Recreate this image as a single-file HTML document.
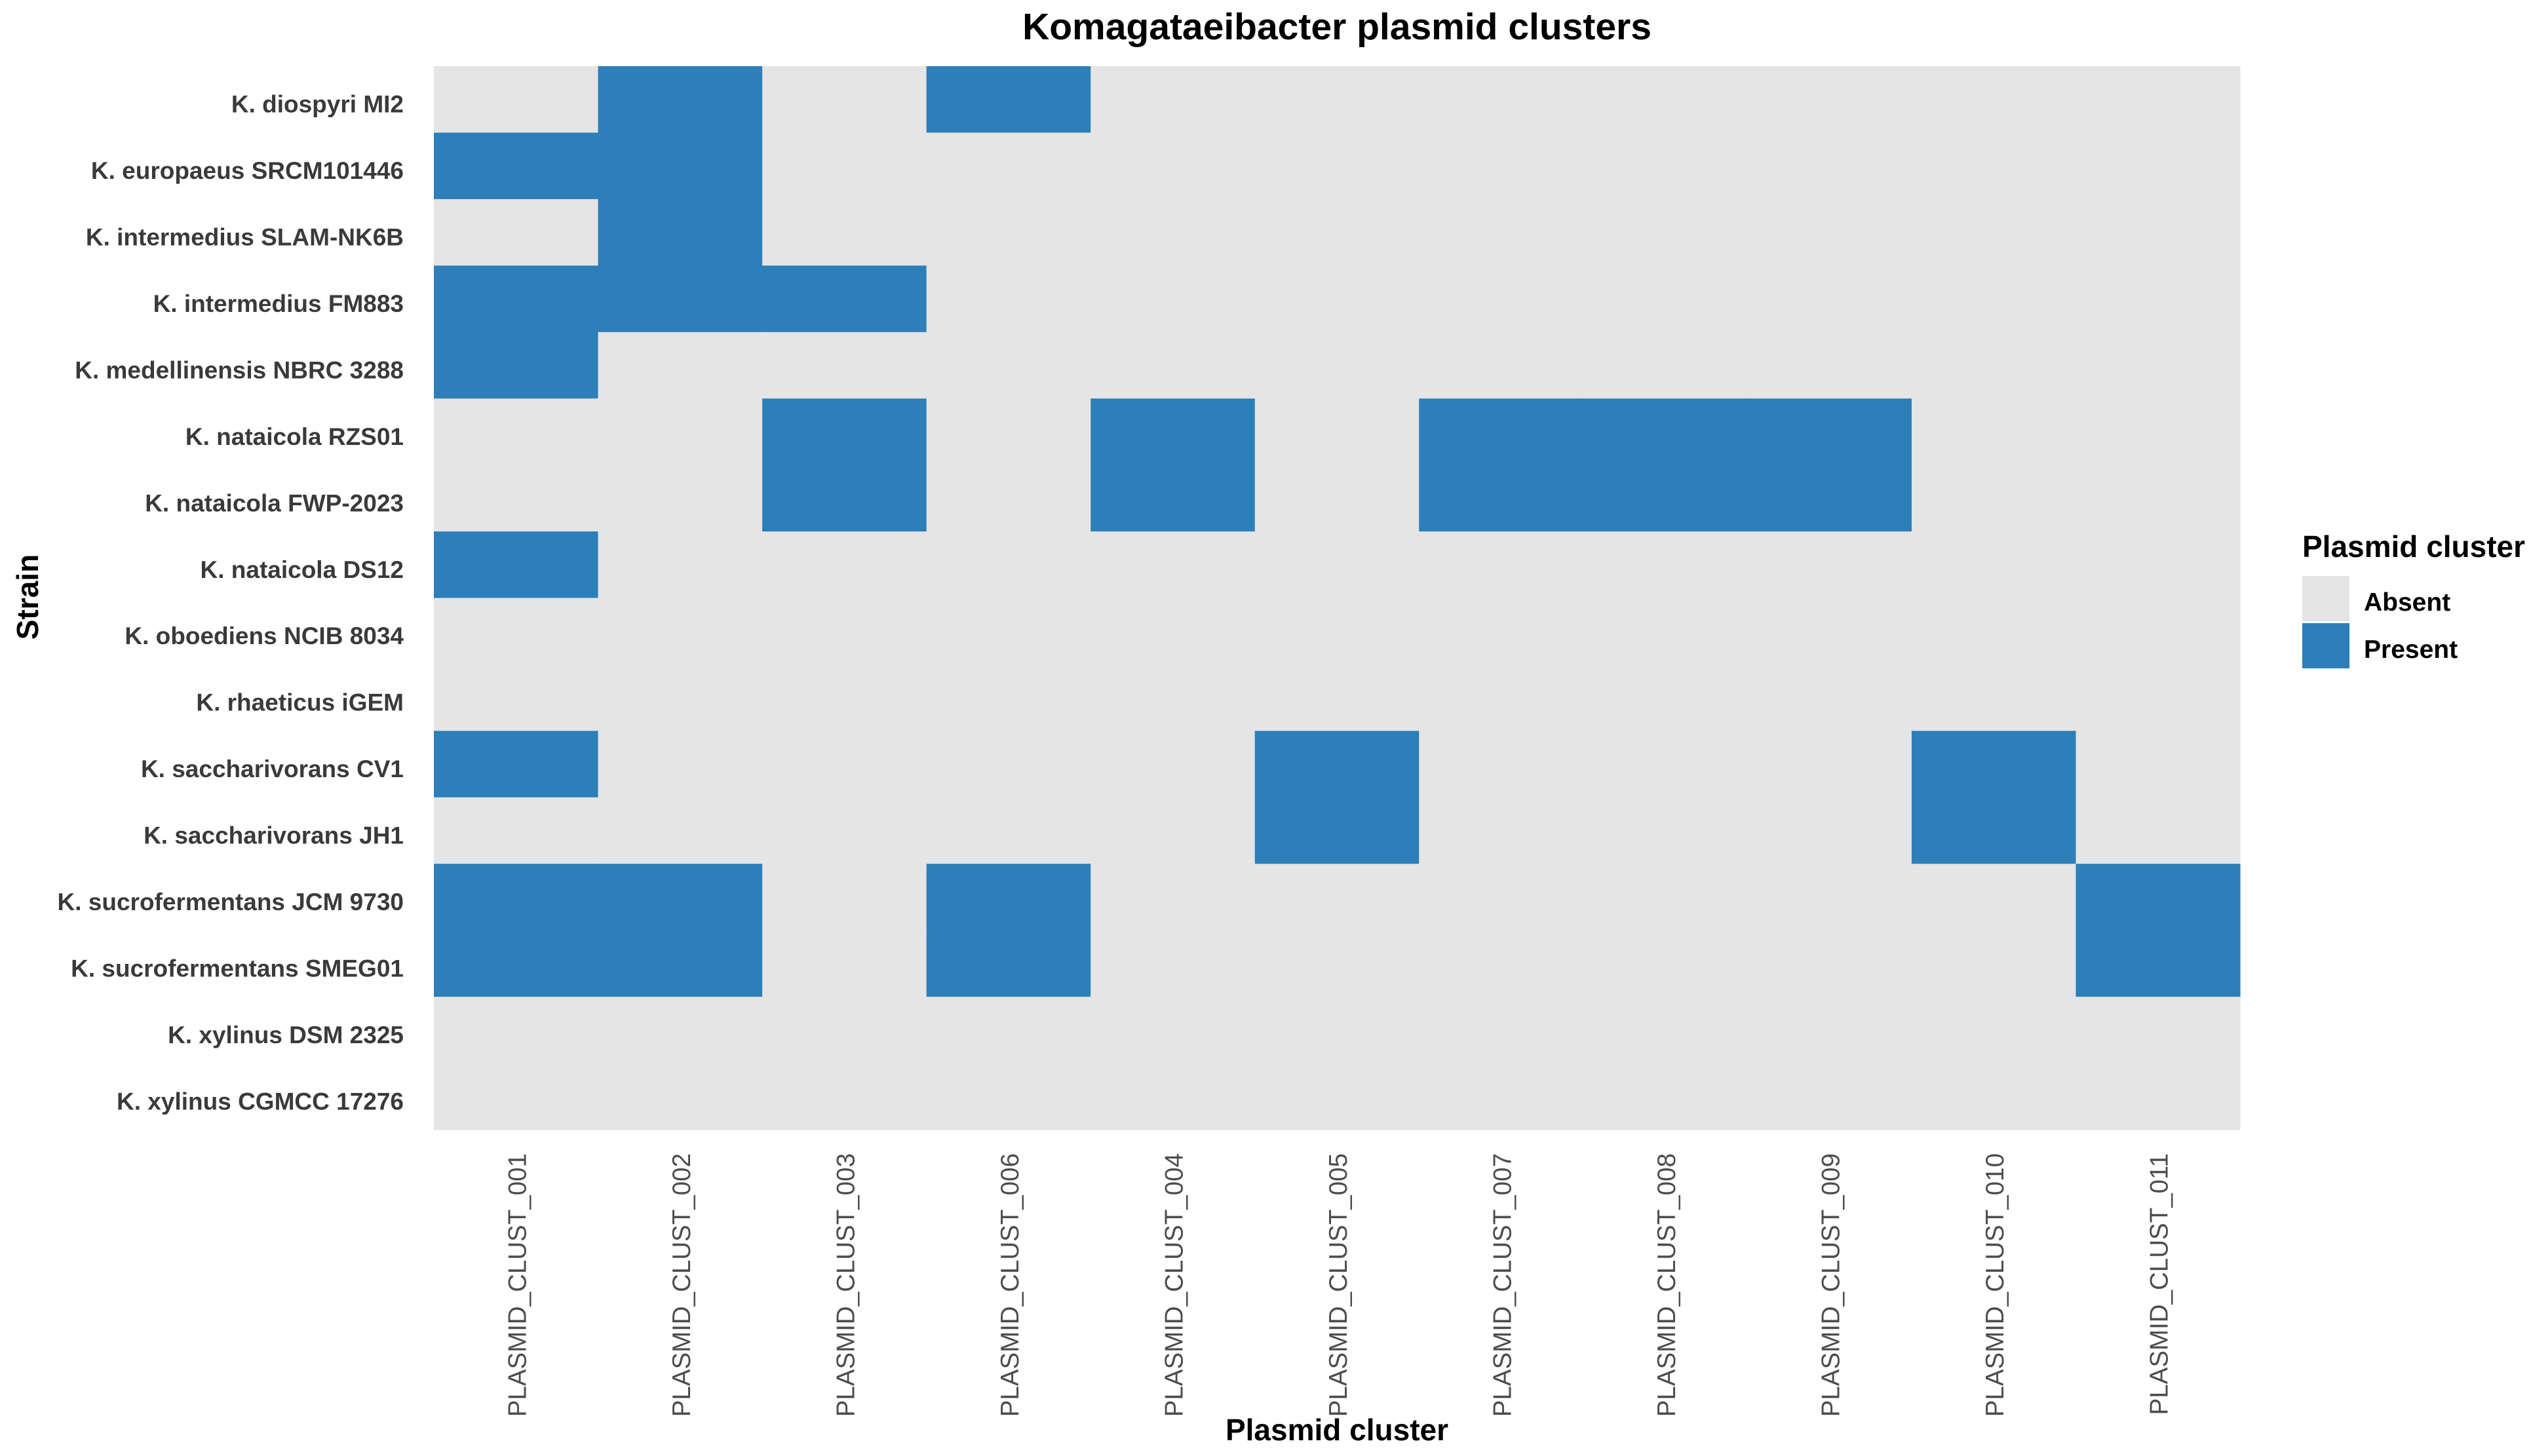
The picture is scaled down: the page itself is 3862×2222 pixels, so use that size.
<!DOCTYPE html>
<html><head><meta charset="utf-8"><style>
html,body{margin:0;padding:0;background:#fff;}
svg{display:block;font-family:"Liberation Sans",Arial,sans-serif;}
</style></head><body>
<svg id="chart" width="3862" height="2222" viewBox="0 0 3862 2222" xmlns="http://www.w3.org/2000/svg">
<rect width="3862" height="2222" fill="#fff"/>
<text x="2040" y="60" font-size="57" font-weight="bold" text-anchor="middle" fill="#000">Komagataeibacter plasmid clusters</text>
<g id="cells"></g>
<g id="ylabels"></g>
<g id="xlabels"></g>
<text transform="translate(58,911) rotate(-90)" font-size="46" font-weight="bold" text-anchor="middle" fill="#000">Strain</text>
<text x="2040" y="2198" font-size="46" font-weight="bold" text-anchor="middle" fill="#000">Plasmid cluster</text>
<g>
<text x="3513" y="850" font-size="46" font-weight="bold" fill="#000">Plasmid cluster</text>
<rect x="3513" y="879" width="72" height="69" fill="#E5E5E5"/>
<text x="3607" y="932" font-size="39" font-weight="bold" fill="#000">Absent</text>
<rect x="3513" y="951" width="72" height="69" fill="#2C7FB8"/>
<text x="3607" y="1004" font-size="39" font-weight="bold" fill="#000">Present</text>
</g>
</svg>
<script>
const strains = ["K. diospyri MI2","K. europaeus SRCM101446","K. intermedius SLAM-NK6B","K. intermedius FM883","K. medellinensis NBRC 3288","K. nataicola RZS01","K. nataicola FWP-2023","K. nataicola DS12","K. oboediens NCIB 8034","K. rhaeticus iGEM","K. saccharivorans CV1","K. saccharivorans JH1","K. sucrofermentans JCM 9730","K. sucrofermentans SMEG01","K. xylinus DSM 2325","K. xylinus CGMCC 17276"];
const clusters = ["PLASMID_CLUST_001","PLASMID_CLUST_002","PLASMID_CLUST_003","PLASMID_CLUST_006","PLASMID_CLUST_004","PLASMID_CLUST_005","PLASMID_CLUST_007","PLASMID_CLUST_008","PLASMID_CLUST_009","PLASMID_CLUST_010","PLASMID_CLUST_011"];
const presence = [
[0,1,0,1,0,0,0,0,0,0,0],
[1,1,0,0,0,0,0,0,0,0,0],
[0,1,0,0,0,0,0,0,0,0,0],
[1,1,1,0,0,0,0,0,0,0,0],
[1,0,0,0,0,0,0,0,0,0,0],
[0,0,1,0,1,0,1,1,1,0,0],
[0,0,1,0,1,0,1,1,1,0,0],
[1,0,0,0,0,0,0,0,0,0,0],
[0,0,0,0,0,0,0,0,0,0,0],
[0,0,0,0,0,0,0,0,0,0,0],
[1,0,0,0,0,1,0,0,0,1,0],
[0,0,0,0,0,1,0,0,0,1,0],
[1,1,0,1,0,0,0,0,0,0,1],
[1,1,0,1,0,0,0,0,0,0,1],
[0,0,0,0,0,0,0,0,0,0,0],
[0,0,0,0,0,0,0,0,0,0,0]
];
const NS="http://www.w3.org/2000/svg";
const X0=662, X1=3418, Y0=101, Y1=1724;
const cw=(X1-X0)/clusters.length, ch=(Y1-Y0)/strains.length;
function xs(i){return X0+i*cw;}
function ys(j){return Y0+j*ch;}
const cells=document.getElementById('cells');
presence.forEach((row,j)=>row.forEach((v,i)=>{
  const r=document.createElementNS(NS,'rect');
  r.setAttribute('x',xs(i));r.setAttribute('y',ys(j));
  r.setAttribute('width',cw+0.6);r.setAttribute('height',ch+0.6);
  r.setAttribute('fill',v?'#2C7FB8':'#E5E5E5');
  
  
  cells.appendChild(r);
}));
const yl=document.getElementById('ylabels');
strains.forEach((s,j)=>{
  const t=document.createElementNS(NS,'text');
  t.setAttribute('x',616);t.setAttribute('y',ys(j)+ch/2+20);
  t.setAttribute('font-size','37');t.setAttribute('font-weight','bold');
  t.setAttribute('text-anchor','end');t.setAttribute('fill','#3a3a3a');
  t.textContent=s;
  
  
  yl.appendChild(t);
});
const xl=document.getElementById('xlabels');
clusters.forEach((c,i)=>{
  const t=document.createElementNS(NS,'text');
  const cx=xs(i)+cw/2+15;
  t.setAttribute('transform','translate('+cx+',1760) rotate(-90)');
  t.setAttribute('font-size','38.5');t.setAttribute('text-anchor','end');t.setAttribute('fill','#4D4D4D');
  t.textContent=c;
  
  
  xl.appendChild(t);
});
</script>
</body></html>
